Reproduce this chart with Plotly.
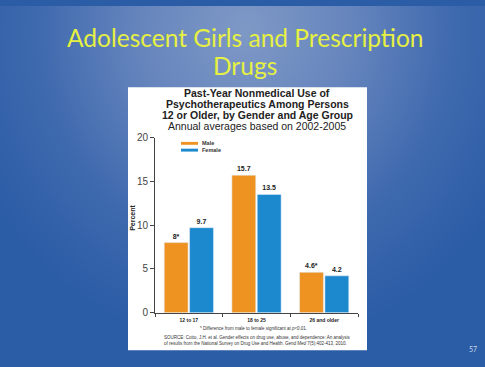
import numpy as np
import plotly.graph_objects as go

# ---- data -------------------------------------------------------------
age_groups = ["12 to 17", "18 to 25", "26 and older"]
male_pct = [8.0, 15.7, 4.6]
female_pct = [9.7, 13.5, 4.2]
male_significant = [True, False, True]   # * marks p<0.01 vs female
y_ticks = [0, 5, 10, 15, 20]

W, H = 485, 367
FONT = "Arial, Liberation Sans, sans-serif"
ORANGE = "#EE9322"
BLUE = "#1C88CE"


def label(v, sig=False):
    return f"{v:g}" + ("*" if sig else "")


male_text = [label(v, s) for v, s in zip(male_pct, male_significant)]
female_text = [label(v) for v in female_pct]

# ---- slide background: soft radial blue gradient -------------------------
gx = np.linspace(-5, W + 5, 60)
gy = np.linspace(-5, H + 5, 46)
X, Y = np.meshgrid(gx, gy)
r = np.sqrt(((X - 245) / 300.0) ** 2 + ((Y - 25) / 330.0) ** 2)
shade = np.clip(r, 0, 1)

fig = go.Figure()
fig.add_trace(go.Heatmap(
    x=gx, y=gy, z=shade, zmin=0, zmax=1, zsmooth="best",
    colorscale=[[0, "#7F99C6"], [0.35, "#6685BD"], [0.7, "#3E69AE"], [1, "#2B5CA6"]],
    showscale=False, hoverinfo="skip", xaxis="x", yaxis="y",
))
# white panel holding the chart
px0, px1, py0, py1 = 128, 367, 84, 356
fig.add_trace(go.Scatter(
    x=[px0, px1, px1, px0, px0], y=[py0, py0, py1, py1, py0],
    fill="toself", fillcolor="white", mode="lines", line=dict(width=0, color="white"),
    hoverinfo="skip", showlegend=False, xaxis="x", yaxis="y",
))

# ---- bar chart -------------------------------------------------------
fig.add_trace(go.Bar(
    name="Male", x=age_groups, y=male_pct, marker_color=ORANGE,
    text=male_text, textposition="outside", cliponaxis=False,
    textfont=dict(family=FONT, size=7, color="#222", weight="bold"),
    xaxis="x2", yaxis="y2", showlegend=False,
))
fig.add_trace(go.Bar(
    name="Female", x=age_groups, y=female_pct, marker_color=BLUE,
    text=female_text, textposition="outside", cliponaxis=False,
    textfont=dict(family=FONT, size=7, color="#222", weight="bold"),
    xaxis="x2", yaxis="y2", showlegend=False,
))

ax0, ax1 = 155 / W, 358 / W
ay0, ay1 = (H - 317) / H, (H - 136) / H


def px(x):
    return x / W


def py(y):
    return 1 - y / H


annotations = []
# slide heading
for txt, yy in [("Adolescent Girls and Prescription", 33), ("Drugs", 61)]:
    annotations.append(dict(
        text=txt, x=px(245), y=py(yy), xref="paper", yref="paper",
        showarrow=False, xanchor="center", yanchor="middle",
        font=dict(family="Lato, Open Sans, sans-serif", size=24.5, color="#E6F043"),
    ))
# chart heading
heading = [
    ("Past-Year Nonmedical Use of", 90, "bold"),
    ("Psychotherapeutics Among Persons", 101.5, "bold"),
    ("12 or Older, by Gender and Age Group", 113, "bold"),
    ("Annual averages based on 2002-2005", 124.5, "normal"),
]
for txt, yy, wt in heading:
    annotations.append(dict(
        text=txt, x=px(257), y=py(yy), xref="paper", yref="paper",
        showarrow=False, xanchor="center", yanchor="middle",
        font=dict(family=FONT, size=10.5, color="#222", weight=wt),
    ))
# axis title
annotations.append(dict(
    text="Percent", x=px(133), y=py(219), xref="paper", yref="paper",
    showarrow=False, textangle=-90, xanchor="center", yanchor="middle",
    font=dict(family=FONT, size=7, color="#222", weight="bold"),
))
# legend labels
for txt, yy in [("Male", 142), ("Female", 149)]:
    annotations.append(dict(
        text=txt, x=px(200), y=py(yy), xref="paper", yref="paper",
        showarrow=False, xanchor="left", yanchor="middle",
        font=dict(family=FONT, size=5.5, color="#333", weight="bold"),
    ))
# footnotes
annotations.append(dict(
    text="* Difference from male to female significant at <i>p</i>&lt;0.01.",
    x=px(253), y=py(333), xref="paper", yref="paper", showarrow=False,
    xanchor="center", yanchor="middle", font=dict(family=FONT, size=4.5, color="#333"),
))
annotations.append(dict(
    text=("SOURCE: Cotto, J.H. et al. Gender effects on drug use, abuse, and dependence: An analysis<br>"
          "of results from the National Survey on Drug Use and Health. <i>Gend Med</i> 7(5):402-413, 2010."),
    x=px(257), y=py(345.5), xref="paper", yref="paper", showarrow=False,
    xanchor="center", yanchor="middle", align="left",
    font=dict(family=FONT, size=4.5, color="#333"),
))
# slide number
annotations.append(dict(
    text="57", x=px(473), y=py(355), xref="paper", yref="paper", showarrow=False,
    xanchor="center", yanchor="middle", font=dict(family="Lato, sans-serif", size=7, color="#C9D5EA"),
))

shapes = [
    dict(type="rect", xref="paper", yref="paper", x0=px(181), x1=px(198),
         y0=py(143.5), y1=py(140.5), fillcolor=ORANGE, line=dict(width=0)),
    dict(type="rect", xref="paper", yref="paper", x0=px(181), x1=px(198),
         y0=py(150.5), y1=py(147.5), fillcolor=BLUE, line=dict(width=0)),
]

fig.update_layout(
    width=W, height=H, margin=dict(l=0, r=0, t=0, b=0),
    paper_bgcolor="#2B5CA6", plot_bgcolor="rgba(0,0,0,0)",
    barmode="group", bargap=0.25, bargroupgap=0.06,
    showlegend=False,
    xaxis=dict(domain=[0, 1], range=[0, W], visible=False, fixedrange=True),
    yaxis=dict(domain=[0, 1], range=[H, 0], visible=False, fixedrange=True),
    xaxis2=dict(
        domain=[ax0, ax1], anchor="y2", type="category",
        showline=True, linecolor="#444", linewidth=1,
        ticks="outside", tickson="boundaries", ticklen=3, tickcolor="#444",
        ticklabelstandoff=2,
        tickfont=dict(family=FONT, size=5, color="#222", weight="bold"),
        showgrid=False, zeroline=False,
    ),
    yaxis2=dict(
        domain=[ay0, ay1], anchor="x2", range=[0, 20], tickvals=y_ticks,
        showline=True, linecolor="#444", linewidth=1,
        ticks="outside", ticklen=4, tickcolor="#444",
        tickfont=dict(family=FONT, size=10, color="#444"),
        showgrid=False, zeroline=False,
    ),
    annotations=annotations, shapes=shapes,
)

fig.write_html("out.html")
